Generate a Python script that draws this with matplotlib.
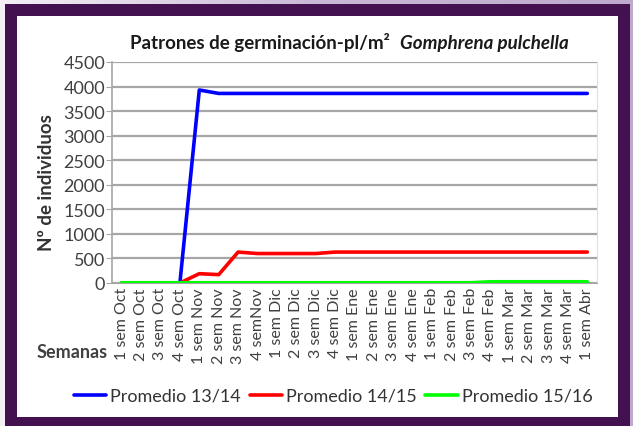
import numpy as np
import matplotlib.pyplot as plt
from matplotlib.patches import Rectangle

plt.rcParams['font.family'] = ['Lato', 'DejaVu Sans']

semanas = ['1 sem Oct', '2 sem Oct', '3 sem Oct', '4 sem Oct',
           '1 sem Nov', '2 sem Nov', '3 sem Nov', '4 semNov',
           '1 sem Dic', '2 sem Dic', '3 sem Dic', '4 sem Dic',
           '1 sem Ene', '2 sem Ene', '3 sem Ene', '4 sem Ene',
           '1 sem Feb', '2 sem Feb', '3 sem Feb', '4 sem Feb',
           '1 sem Mar', '2 sem Mar', '3 sem Mar', '4 sem Mar',
           '1 sem Abr']

prom_13_14 = [0, 0, 0, 0, 3930, 3860, 3860, 3860, 3860, 3860, 3860, 3860, 3860,
              3860, 3860, 3860, 3860, 3860, 3860, 3860, 3860, 3860, 3860, 3860, 3860]
prom_14_15 = [0, 0, 0, 0, 190, 170, 630, 600, 600, 600, 600, 630, 630,
              630, 630, 630, 630, 630, 630, 630, 630, 630, 630, 630, 630]
prom_15_16 = [5, 5, 5, 5, 5, 5, 5, 5, 5, 5, 5, 5, 5,
              5, 5, 5, 5, 5, 5, 25, 25, 25, 25, 25, 25]

W, H = 633, 427
fig = plt.figure(figsize=(W / 100, H / 100), dpi=100)

# background: lavender with a light gradient at the top left
bg = fig.add_axes([0, 0, 1, 1], zorder=-10)
grad = np.linspace(0, 1, 256)[None, :]
bg.imshow(grad, extent=[0, 1, 0, 1], aspect='auto',
          cmap=plt.matplotlib.colors.LinearSegmentedColormap.from_list(
              'lav', ['#F4F0F6', '#C9B8D6', '#BFAACD']))
bg.set_xlim(0, 1)
bg.set_ylim(0, 1)
bg.axis('off')

purple = '#43114F'
fig.patches.append(Rectangle((5 / W, 0), 625 / W, 1 - 5 / H, transform=fig.transFigure,
                             facecolor=purple, edgecolor='none', zorder=-5))
fig.patches.append(Rectangle((17 / W, 9 / H), 601 / W, 401 / H, transform=fig.transFigure,
                             facecolor='white', edgecolor='none', zorder=-4))

ax = fig.add_axes([112 / W, 1 - 284 / H, 485 / W, 221 / H])
x = np.arange(len(semanas))
ax.plot(x, prom_13_14, color='#0000FF', lw=2.6, label='Promedio 13/14', solid_capstyle='round')
ax.plot(x, prom_14_15, color='#FF0000', lw=2.6, label='Promedio 14/15', solid_capstyle='round')
ax.plot(x, prom_15_16, color='#00FF00', lw=2.6, label='Promedio 15/16', solid_capstyle='round')

ax.set_xlim(-0.5, 24.5)
ax.set_ylim(0, 4500)
ax.set_yticks(np.arange(0, 4501, 500))
ax.yaxis.grid(True, color='#A6A6A6', lw=1.6)
ax.set_axisbelow(True)
ax.set_xticks(x)
ax.set_xticklabels(semanas, rotation=90, fontsize=11.5, color='#404040')
ax.tick_params(axis='y', labelsize=13, colors='#404040', length=4, color='#A6A6A6', pad=1)
ax.tick_params(axis='x', length=0, pad=3)
ax.spines['top'].set_visible(False)
ax.spines['left'].set_color('#A6A6A6')
ax.spines['left'].set_linewidth(1.2)
ax.spines['bottom'].set_color('#A6A6A6')
ax.spines['right'].set_color('#E0E0E0')

fig.text(390 / W, 1 - 43 / H, 'Patrones de germinación-pl/m²', ha='right', va='center',
         fontsize=13.5, fontweight='bold', color='#1a1a1a')
fig.text(400 / W, 1 - 43 / H, 'Gomphrena pulchella', ha='left', va='center',
         fontsize=13.5, fontweight='bold', fontstyle='italic', color='#1a1a1a')
fig.text(47 / W, 1 - 183 / H, 'Nº de individuos', rotation=90, ha='center', va='center',
         fontsize=13.5, fontweight='bold', color='#333333')
fig.text(108 / W, 1 - 352 / H, 'Semanas', ha='right', va='center',
         fontsize=13, fontweight='bold', color='#404040')

fig.legend(loc='center', bbox_to_anchor=(333 / W, 1 - 397 / H), ncol=3, frameon=False,
           fontsize=13, handlelength=1.8, handletextpad=0.2, columnspacing=0.5,
           labelcolor='#333333')

fig.savefig('out.png', dpi=100)
